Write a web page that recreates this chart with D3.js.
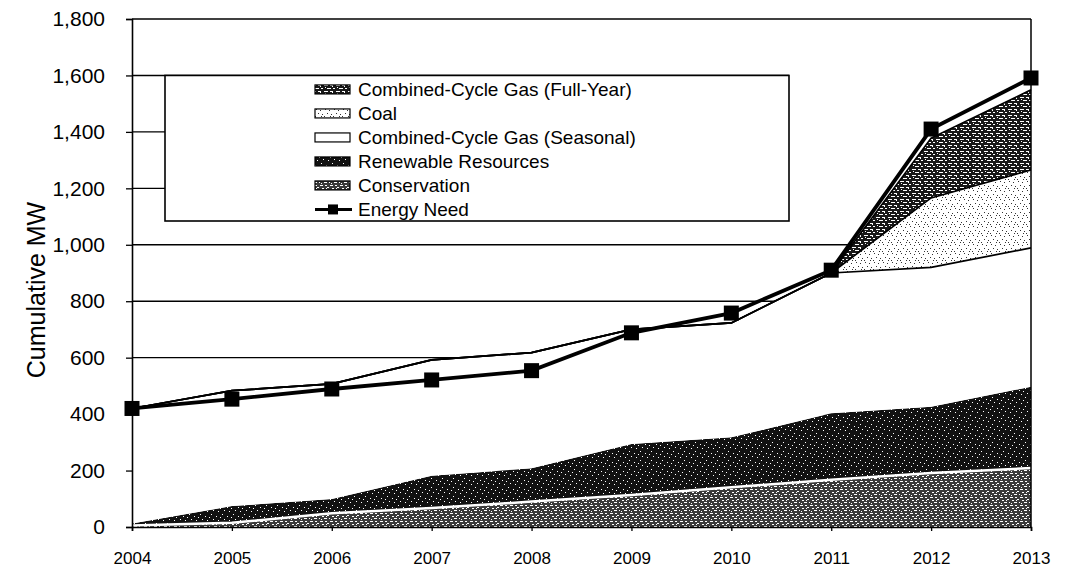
<!DOCTYPE html>
<html>
<head>
<meta charset="utf-8">
<script src="https://cdn.jsdelivr.net/npm/d3@7"></script>
<style>
  body { margin: 0; background: #fff; }
  svg text { font-family: Arial, "Liberation Sans", sans-serif; fill: #000; }
</style>
</head>
<body>
<svg id="chart" width="1065" height="567"></svg>
<script>
////////////////////////////////////////////////////////////////////////
// Cumulative MW by resource, 2004 - 2013, against energy need
////////////////////////////////////////////////////////////////////////

var years = [2004, 2005, 2006, 2007, 2008, 2009, 2010, 2011, 2012, 2013];

// stacked resources, bottom to top (MW)
var conservation = [5, 15, 49, 67, 90, 113, 141, 167, 191, 209];
var renewable    = [7, 59, 50, 115, 118, 181, 177, 236, 235, 288];
var ccgSeasonal  = [408, 409, 408, 410, 410, 406, 405, 497, 494, 492];
var coal         = [0, 0, 0, 0, 0, 0, 0, 0, 246, 276];
var ccgFullYear  = [0, 0, 0, 0, 0, 0, 0, 0, 212, 284];

var energyNeed   = [420, 453, 489, 521, 554, 688, 758, 910, 1410, 1591];

var yTicks = [0, 200, 400, 600, 800, 1000, 1200, 1400, 1600, 1800];

var seriesKeys   = ["conservation", "renewable", "ccgSeasonal", "coal", "ccgFullYear"];
var seriesLabels = {
  ccgFullYear: "Combined-Cycle Gas (Full-Year)",
  coal: "Coal",
  ccgSeasonal: "Combined-Cycle Gas (Seasonal)",
  renewable: "Renewable Resources",
  conservation: "Conservation"
};


////////////////////////////////////////////////////////////////////////
//
// small tiled patterns that imitate the printed screen tones
//
////////////////////////////////////////////////////////////////////////
function makePattern(defs, id, w, h, bg, fg, specks)
  {
  var p = defs.append("pattern")
    .attr("id", id)
    .attr("patternUnits", "userSpaceOnUse")
    .attr("width", w)
    .attr("height", h);

  p.append("rect").attr("width", w).attr("height", h).attr("fill", bg);

  specks.forEach(function(s)
    {
    p.append("rect")
      .attr("x", s[0]).attr("y", s[1])
      .attr("width", s[2]).attr("height", s[3])
      .attr("fill", fg);
    });
  }


////////////////////////////////////////////////////////////////////////
//
// Draw the chart
//
////////////////////////////////////////////////////////////////////////
function init()
  {
  var svg = d3.select("#chart");

  var left = 132, right = 1031, top = 19, bottom = 527;
  var legendBox = {x: 165, right: 789, bottom: 221};

  var x = d3.scaleLinear().domain([2004, 2013]).range([left, right]);
  var y = d3.scaleLinear().domain([0, 1800]).range([bottom, top]);

  var defs = svg.append("defs");
  makePattern(defs, "pat-conservation", 10, 8, "#3a3a3a", "#fff",
    [[0,1,3,1],[5,1,2,1],[7,3,2,1],[2,4,2,1],[4,6,3,1],[9,6,1,1],[1,7,1,1],[6,4,1,1]]);
  makePattern(defs, "pat-renewable", 11, 9, "#111", "#fff",
    [[2,1,1,1],[7,3,1,1],[4,6,1,1],[9,7,1,1],[0,4,1,1]]);
  makePattern(defs, "pat-ccgSeasonal", 4, 4, "#fff", "#fff", []);
  makePattern(defs, "pat-coal", 9, 9, "#fff", "#333",
    [[1,1,1,1],[5,2,1,1],[3,5,1,1],[7,6,1,1],[0,8,1,1],[6,8,1,1]]);
  makePattern(defs, "pat-ccgFullYear", 12, 6, "#181818", "#fff",
    [[0,1,4,1],[6,1,3,1],[3,4,4,1],[9,4,2,1],[8,2,1,1],[1,3,1,1]]);

  //gridlines (upper ones stop at the legend in the source)
  svg.append("g")
    .selectAll("line")
    .data(yTicks.filter(function(v){ return v > 0; }))
    .enter()
    .append("line")
    .attr("x1", left)
    .attr("x2", function(v){ return (v > 1000 && v < 1800) ? legendBox.right : right; })
    .attr("y1", function(v){ return y(v); })
    .attr("y2", function(v){ return y(v); })
    .attr("stroke", "#000")
    .attr("stroke-width", 1.4);

  //stack the resources
  var table = years.map(function(yr, i)
    {
    return {year: yr, conservation: conservation[i], renewable: renewable[i],
            ccgSeasonal: ccgSeasonal[i], coal: coal[i], ccgFullYear: ccgFullYear[i]};
    });
  var stacked = d3.stack().keys(seriesKeys)(table);

  var area = d3.area()
    .x(function(d){ return x(d.data.year); })
    .y0(function(d){ return y(d[0]); })
    .y1(function(d){ return y(d[1]); });

  var topLine = d3.line()
    .x(function(d){ return x(d.data.year); })
    .y(function(d){ return y(d[1]); });

  svg.append("g")
    .selectAll("path")
    .data(stacked)
    .enter()
    .append("path")
    .attr("d", area)
    .attr("fill", function(d){ return "url(#pat-" + d.key + ")"; });

  //white gap above conservation
  svg.append("path")
    .attr("d", topLine(stacked[0]))
    .attr("fill", "none")
    .attr("stroke", "#fff")
    .attr("stroke-width", 2.5);

  //outline on the upper layers
  svg.append("g")
    .selectAll("path")
    .data(stacked.slice(2))
    .enter()
    .append("path")
    .attr("d", topLine)
    .attr("fill", "none")
    .attr("stroke", "#000")
    .attr("stroke-width", 1.7);

  //frame
  svg.append("line").attr("x1", right).attr("x2", right).attr("y1", top).attr("y2", bottom)
    .attr("stroke", "#000").attr("stroke-width", 1.5);

  //axes
  var yAxis = svg.append("g")
    .attr("transform", "translate(" + left + ",0)")
    .call(d3.axisLeft(y).tickValues(yTicks).tickFormat(d3.format(",")).tickSize(6).tickPadding(21));
  yAxis.selectAll("text").style("font-size", "21px");

  var xAxis = svg.append("g")
    .attr("transform", "translate(0," + bottom + ")")
    .call(d3.axisBottom(x).tickValues(years).tickFormat(d3.format("d")).tickSize(4).tickPadding(21));
  xAxis.selectAll("text").style("font-size", "17px");

  svg.selectAll(".domain").attr("stroke", "#000").attr("stroke-width", 1.6);
  svg.selectAll(".tick line").attr("stroke", "#000").attr("stroke-width", 1.3);

  svg.append("text")
    .attr("transform", "translate(45," + 290 + ") rotate(-90)")
    .attr("text-anchor", "middle")
    .style("font-size", "25px")
    .text("Cumulative MW");

  //energy need line and markers
  var needLine = d3.line()
    .x(function(d, i){ return x(years[i]); })
    .y(function(d){ return y(d); });

  svg.append("path")
    .attr("d", needLine(energyNeed))
    .attr("fill", "none")
    .attr("stroke", "#000")
    .attr("stroke-width", 3.8);

  svg.append("g")
    .selectAll("rect")
    .data(energyNeed)
    .enter()
    .append("rect")
    .attr("x", function(d, i){ return x(years[i]) - 7.5; })
    .attr("y", function(d){ return y(d) - 7.5; })
    .attr("width", 15)
    .attr("height", 15)
    .attr("fill", "#000");

  drawLegend(svg, legendBox, y(1600));
  }


////////////////////////////////////////////////////////////////////////
//
// Legend box in the upper left of the plot
//
////////////////////////////////////////////////////////////////////////
function drawLegend(svg, box, boxTop)
  {
  var g = svg.append("g");

  g.append("rect")
    .attr("x", box.x)
    .attr("y", boxTop)
    .attr("width", box.right - box.x)
    .attr("height", box.bottom - boxTop)
    .attr("fill", "#fff")
    .attr("stroke", "#000")
    .attr("stroke-width", 1.6);

  var order = ["ccgFullYear", "coal", "ccgSeasonal", "renewable", "conservation"];
  var rowY = function(i){ return boxTop + 14 + i * 24; };

  order.forEach(function(key, i)
    {
    g.append("rect")
      .attr("x", 315)
      .attr("y", rowY(i) - 4.5)
      .attr("width", 35)
      .attr("height", 9)
      .attr("fill", "url(#pat-" + key + ")")
      .attr("stroke", "#000")
      .attr("stroke-width", 1.2);

    g.append("text")
      .attr("x", 358)
      .attr("y", rowY(i))
      .attr("dy", "0.35em")
      .style("font-size", "19px")
      .text(seriesLabels[key]);
    });

  var ny = rowY(5);
  g.append("line")
    .attr("x1", 315).attr("x2", 352)
    .attr("y1", ny).attr("y2", ny)
    .attr("stroke", "#000")
    .attr("stroke-width", 3);
  g.append("rect")
    .attr("x", 328).attr("y", ny - 5)
    .attr("width", 10).attr("height", 10)
    .attr("fill", "#000");
  g.append("text")
    .attr("x", 358)
    .attr("y", ny)
    .attr("dy", "0.35em")
    .style("font-size", "19px")
    .text("Energy Need");
  }

init();
</script>
</body>
</html>
